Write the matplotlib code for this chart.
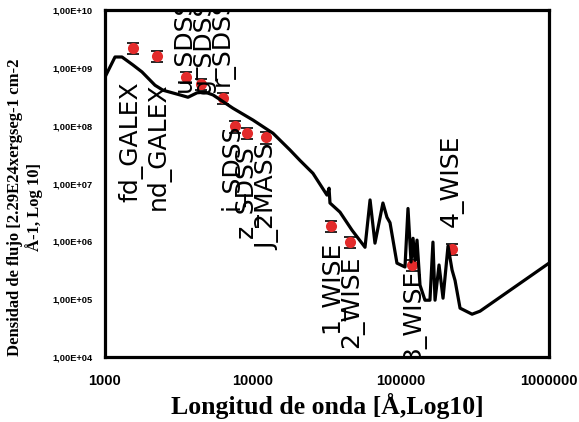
import numpy as np
import matplotlib
matplotlib.use("Agg")
import matplotlib.pyplot as plt
from matplotlib.ticker import FixedLocator, NullLocator, FuncFormatter

# ----------------------------------------------------------------------
# Data
# ----------------------------------------------------------------------
# photometric points (wavelength in Angstrom, flux)
bands = ["fd_GALEX", "nd_GALEX", "u_SDSS", "g_SDSS", "r_SDSS", "i_SDSS",
         "z_SDSS", "J_2MASS", "1_WISE", "2_WISE", "3_WISE", "4_WISE"]
band_wave = [1545, 2245, 3525, 4454, 6266, 7550,
             9100, 12250, 33650, 45200, 118600, 221000]
band_flux = [2.2e9, 1.6e9, 6.9e8, 5.2e8, 3.0e8, 9.8e7,
             7.4e7, 6.3e7, 1.83e6, 9.7e5, 3.9e5, 7.3e5]
band_err = [4.8e8, 3.5e8, 1.5e8, 1.1e8, 6.6e7, 2.2e7,
            1.6e7, 1.4e7, 4.0e5, 2.1e5, 8.6e4, 1.6e5]

# model SED curve
model_wave = [1000, 1169, 1303, 1546, 1778, 2178, 2466, 3213, 3639, 4188,
              4743, 5370, 7328, 10000, 13650, 17780, 20790, 25420, 31620,
              32650, 33130, 38700, 46670, 57130, 61800, 66700, 75500, 80400,
              84300, 93900, 106400, 111500, 116900, 120600, 124400, 128300,
              134400, 145200, 156900, 164400, 169800, 180700, 192300,
              207800, 221300, 231900, 250600, 302100, 342000, 1000000]
model_flux = [6.9e8, 1.54e9, 1.54e9, 1.12e9, 8.5e8, 5.0e8, 4.1e8, 3.4e8,
              3.1e8, 3.7e8, 3.8e8, 3.4e8, 2.0e8, 1.25e8, 7.4e7, 3.8e7,
              2.5e7, 1.5e7, 6.3e6, 8.3e6, 4.6e6, 3.2e6, 1.56e6, 7.9e5,
              5.2e6, 9.3e5, 4.6e6, 2.6e6, 2.1e6, 4.2e5, 3.6e5, 3.7e6,
              4.4e5, 1.13e6, 4.7e5, 1.05e6, 1.75e5, 9.6e4, 9.6e4, 9.7e5,
              9.6e4, 3.9e5, 1.04e5, 8.3e5, 3.2e5, 2.1e5, 7.0e4, 5.5e4,
              6.2e4, 4.2e5]

x_ticks = [1000, 10000, 100000, 1000000]
y_ticks = [1e4, 1e5, 1e6, 1e7, 1e8, 1e9, 1e10]

# label placement (pixels from the point to the start of the rotated text)
label_offsets = [(-2, -154), (1, -154), (-1, -15), (4, -10), (0, 12),
                 (-3, -84), (0, -105), (2, -113), (1, -107), (2, -106),
                 (2, -97), (0, 22)]

# ----------------------------------------------------------------------
# Figure
# ----------------------------------------------------------------------
fig = plt.figure(figsize=(5.79, 4.22), dpi=100)
ax = fig.add_axes([0.1813, 0.154, 0.7669, 0.8223])

ax.errorbar(band_wave, band_flux, yerr=band_err, fmt="none",
            ecolor="black", elinewidth=0, capsize=4, capthick=1.2, zorder=2)
ax.plot(band_wave, band_flux, "o", color="#e32b2b", markersize=8,
        markeredgewidth=0, zorder=3)
ax.plot(model_wave, model_flux, color="black", linewidth=2.3,
        solid_joinstyle="round", zorder=4)

for name, wx, fy, off in zip(bands, band_wave, band_flux, label_offsets):
    ax.annotate(name, (wx, fy), xytext=off, textcoords="offset pixels",
                rotation=90, ha="center", va="bottom", fontsize=18,
                family="DejaVu Sans", clip_on=True, zorder=5)

ax.set_xscale("log")
ax.set_yscale("log")
ax.set_xlim(1000, 1000000)
ax.set_ylim(1e4, 1e10)

ax.xaxis.set_major_locator(FixedLocator(x_ticks))
ax.yaxis.set_major_locator(FixedLocator(y_ticks))
ax.xaxis.set_minor_locator(NullLocator())
ax.yaxis.set_minor_locator(NullLocator())
ax.xaxis.set_major_formatter(FuncFormatter(lambda v, p: f"{int(round(v))}"))
ax.yaxis.set_major_formatter(
    FuncFormatter(lambda v, p: f"1,00E+{int(round(np.log10(v))):02d}"))

ax.tick_params(axis="both", length=0)
ax.tick_params(axis="x", pad=12)
ax.tick_params(axis="y", pad=9)
for lab in ax.get_xticklabels():
    lab.set_fontfamily("Liberation Sans")
    lab.set_fontweight("bold")
    lab.set_fontsize(10.5)
for lab in ax.get_yticklabels():
    lab.set_fontfamily("Liberation Sans")
    lab.set_fontweight("bold")
    lab.set_fontsize(6.7)

for side in ax.spines.values():
    side.set_linewidth(2.3)
    side.set_color("black")

ax.set_xlabel("Longitud de onda [Å,Log10]", fontsize=18.5,
              family="Liberation Serif", fontweight="bold", labelpad=4)
fig.text(25 / 579, 1 - 207 / 422,
         "Densidad de flujo [2.29E24xergseg-1 cm-2\nÅ-1, Log 10]",
         rotation=90, ha="center", va="center", multialignment="center",
         fontsize=12, family="Liberation Serif", fontweight="bold",
         linespacing=1.1)

fig.savefig("out.png", dpi=100)
